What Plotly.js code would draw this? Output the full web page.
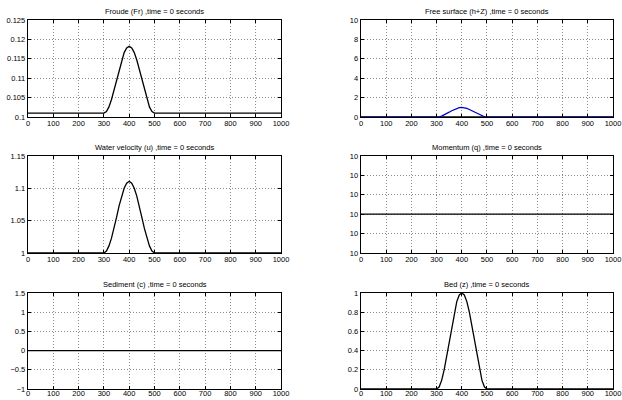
<!DOCTYPE html>
<html>
<head>
<meta charset="utf-8">
<script src="https://cdn.plot.ly/plotly-3.0.1.min.js"></script>
<style>html,body{margin:0;padding:0;background:#fff;}#chart{width:622px;height:400px;}</style>
</head>
<body>
<div id="chart"></div>
<script>
// ---- data ----
var xPos = [0, 300, 310, 320, 330, 340, 350, 360, 370, 380, 390, 400, 410, 420, 430, 440, 450, 460, 470, 480, 490, 500, 1000];
var froude = [0.1010, 0.1010, 0.1014, 0.1026, 0.1045, 0.1069, 0.1096, 0.1123, 0.1147, 0.1166, 0.1178, 0.1182, 0.1178, 0.1166, 0.1147, 0.1123, 0.1096, 0.1069, 0.1045, 0.1026, 0.1014, 0.1010, 0.1010];
var freeSurface = [0, 0, 0.02, 0.09, 0.20, 0.34, 0.50, 0.65, 0.78, 0.89, 0.96, 0.99, 0.96, 0.89, 0.78, 0.65, 0.50, 0.34, 0.20, 0.09, 0.02, 0, 0];
var velocity = [1.000, 1.000, 1.003, 1.011, 1.023, 1.038, 1.055, 1.073, 1.088, 1.100, 1.108, 1.111, 1.108, 1.100, 1.088, 1.073, 1.055, 1.038, 1.023, 1.011, 1.003, 1.000, 1.000];
var momentum = [10, 10, 10, 10, 10, 10, 10, 10, 10, 10, 10, 10, 10, 10, 10, 10, 10, 10, 10, 10, 10, 10, 10];
var sediment = [0, 0, 0, 0, 0, 0, 0, 0, 0, 0, 0, 0, 0, 0, 0, 0, 0, 0, 0, 0, 0, 0, 0];
var bed = [0, 0, 0.02, 0.09, 0.20, 0.34, 0.50, 0.66, 0.80, 0.91, 0.98, 1.00, 0.98, 0.91, 0.80, 0.66, 0.50, 0.34, 0.20, 0.09, 0.02, 0, 0];
var titles = ["Froude (Fr) ,time = 0 seconds", "Free surface (h+Z) ,time = 0 seconds",
              "Water velocity (u) ,time = 0 seconds", "Momentum (q) ,time = 0 seconds",
              "Sediment (c) ,time = 0 seconds", "Bed (z) ,time = 0 seconds"];
var momentumTickVals = [9.99998, 9.99999, 10.00000, 10.00001, 10.00002, 10.00003];
var momentumTickText = ["10", "10", "10", "10", "10", "10"];

// ---- layout geometry ----
var colX = [[0.0450, 0.4518], [0.5804, 0.9855]];
var rowY = [[0.7075, 0.95], [0.3675, 0.61], [0.0275, 0.2675]];
var font = {family: "Liberation Sans, Arial, sans-serif", size: 7.5, color: "#000"};

function ax(extra) {
  var a = {
    showline: true, mirror: "ticks", linecolor: "#000", linewidth: 1.3,
    ticks: "inside", ticklen: 3, tickcolor: "#000", tickwidth: 1,
    showgrid: true, gridcolor: "#8a8a8a", griddash: "1px,2px", gridwidth: 1,
    zeroline: false, tickfont: font, fixedrange: true, ticklabeloverflow: "allow"
  };
  for (var k in extra) a[k] = extra[k];
  return a;
}

var layout = {
  width: 622, height: 400, margin: {l: 0, r: 0, t: 0, b: 0},
  paper_bgcolor: "#fff", plot_bgcolor: "#fff", showlegend: false, font: font,
  annotations: []
};
var yRanges = [[0.1, 0.125], [0, 10], [1, 1.15], [9.99998, 10.00003], [-1, 1.5], [0, 1]];
var yDticks = [0.005, 2, 0.05, null, 0.5, 0.2];
for (var i = 0; i < 6; i++) {
  var r = Math.floor(i / 2), c = i % 2, n = i + 1;
  var xk = n === 1 ? "xaxis" : "xaxis" + n, yk = n === 1 ? "yaxis" : "yaxis" + n;
  layout[xk] = ax({domain: colX[c], range: [0, 1000], dtick: 100, tick0: 0,
                   ticklabelstandoff: r === 2 ? -3 : -1, anchor: "y" + (n === 1 ? "" : n)});
  var yExtra = {domain: rowY[r], range: yRanges[i], anchor: "x" + (n === 1 ? "" : n)};
  if (yDticks[i] !== null) { yExtra.dtick = yDticks[i]; yExtra.tick0 = yRanges[i][0]; }
  else { yExtra.tickmode = "array"; yExtra.tickvals = momentumTickVals; yExtra.ticktext = momentumTickText; }
  layout[yk] = ax(yExtra);
  layout.annotations.push({
    text: titles[i], showarrow: false, xref: "paper", yref: "paper",
    x: (colX[c][0] + colX[c][1]) / 2, y: rowY[r][1] + 0.022, xanchor: "center", yanchor: "middle",
    font: font
  });
}

function line(y, n, color, w) {
  return {x: xPos, y: y, type: "scatter", mode: "lines", hoverinfo: "skip", cliponaxis: false,
          xaxis: "x" + (n === 1 ? "" : n), yaxis: "y" + (n === 1 ? "" : n),
          line: {color: color, width: w}};
}
var data = [
  line(froude, 1, "#000", 1.3),
  line(sediment, 2, "#000", 1.6),
  line(freeSurface, 2, "#0000cc", 1.2),
  line(velocity, 3, "#000", 1.3),
  line(momentum, 4, "#000", 1.3),
  line(sediment, 5, "#000", 1.3),
  line(bed, 6, "#000", 1.3)
];
Plotly.newPlot("chart", data, layout, {staticPlot: true, displayModeBar: false});
</script>
</body>
</html>
